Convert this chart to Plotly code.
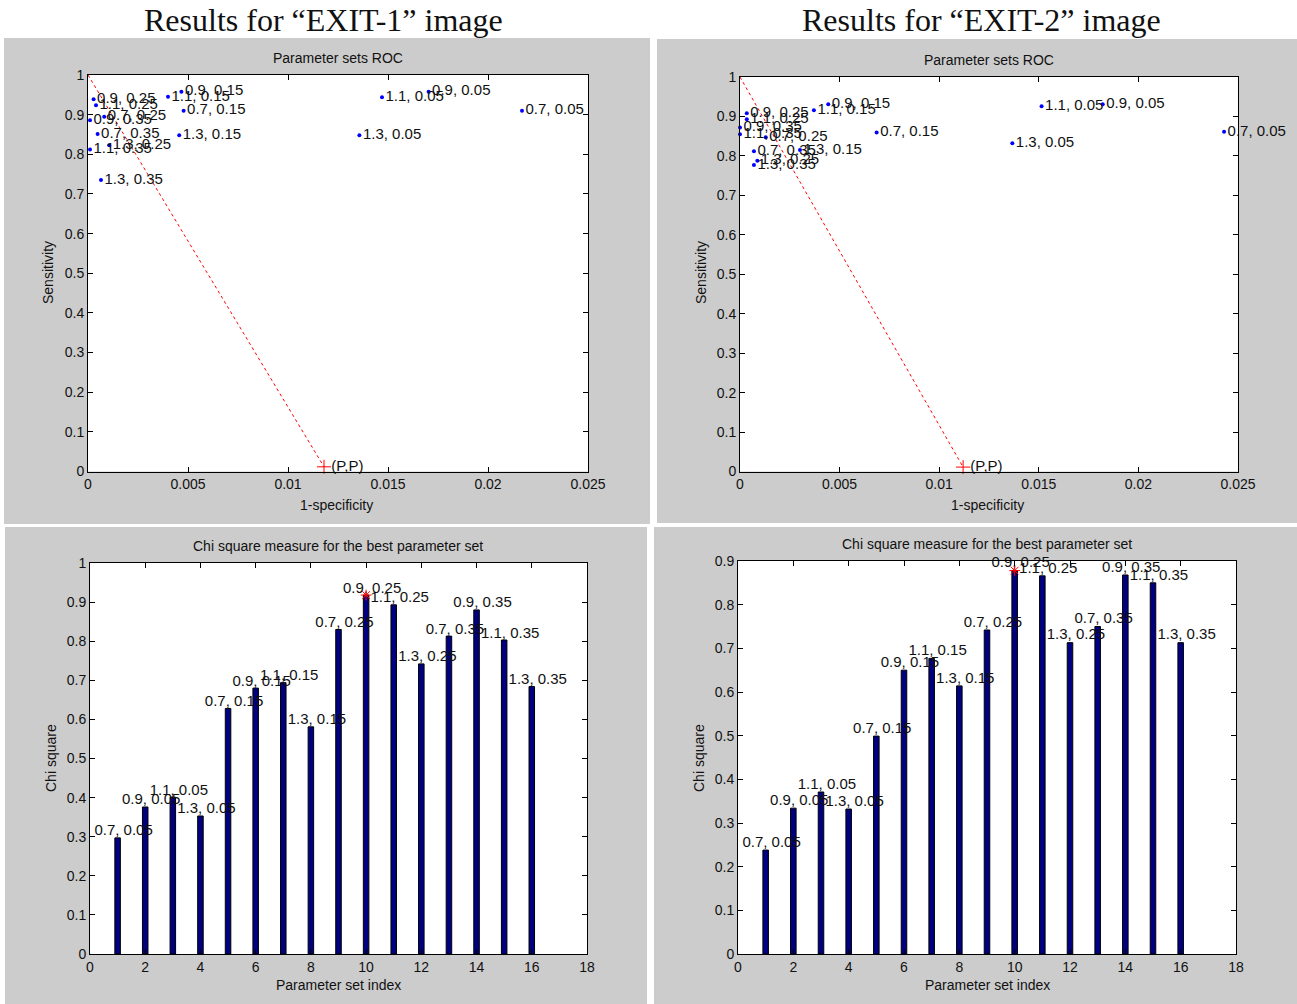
import plotly.graph_objects as go

W, H = 1297, 1004

# ---------------- data ----------------
param_labels = ["0.7, 0.05", "0.9, 0.05", "1.1, 0.05", "1.3, 0.05",
                "0.7, 0.15", "0.9, 0.15", "1.1, 0.15", "1.3, 0.15",
                "0.7, 0.25", "0.9, 0.25", "1.1, 0.25", "1.3, 0.25",
                "0.7, 0.35", "0.9, 0.35", "1.1, 0.35", "1.3, 0.35"]
param_index = list(range(1, 17))

roc1_fpr = [0.0217, 0.01703, 0.0147, 0.01357, 0.00478, 0.00467, 0.0040, 0.00456,
            0.00081, 0.00028, 0.0004, 0.00106, 0.00048, 0.0001, 0.0001, 0.00065]
roc1_tpr = [0.910, 0.958, 0.944, 0.848, 0.910, 0.958, 0.945, 0.848,
            0.895, 0.939, 0.924, 0.823, 0.851, 0.886, 0.812, 0.735]
roc2_fpr = [0.0243, 0.01821, 0.01514, 0.01367, 0.00686, 0.00443, 0.00371, 0.00301,
            0.00129, 0.00034, 0.00034, 0.00087, 0.0007, 0.0, 0.0, 0.0007]
roc2_tpr = [0.861, 0.931, 0.926, 0.832, 0.859, 0.931, 0.916, 0.815,
            0.847, 0.908, 0.893, 0.788, 0.812, 0.872, 0.855, 0.777]
prevalence1 = 0.0118
prevalence2 = 0.0112

chi1 = [0.297, 0.376, 0.401, 0.353, 0.628, 0.680, 0.694, 0.581,
        0.830, 0.918, 0.893, 0.742, 0.813, 0.880, 0.803, 0.684]
chi2 = [0.238, 0.334, 0.371, 0.332, 0.499, 0.650, 0.677, 0.614,
        0.742, 0.878, 0.866, 0.713, 0.750, 0.868, 0.850, 0.713]
best1 = 10
best2 = 10

roc_xticks = [0, 0.005, 0.01, 0.015, 0.02, 0.025]
roc_xticktext = ["0", "0.005", "0.01", "0.015", "0.02", "0.025"]
unit_ticks = [0, 0.1, 0.2, 0.3, 0.4, 0.5, 0.6, 0.7, 0.8, 0.9, 1.0]
unit_ticktext = ["0", "0.1", "0.2", "0.3", "0.4", "0.5", "0.6", "0.7", "0.8", "0.9", "1"]
chi_xticks = [0, 2, 4, 6, 8, 10, 12, 14, 16, 18]
chi_xticktext = ["0", "2", "4", "6", "8", "10", "12", "14", "16", "18"]
chi2_yticks = unit_ticks[:10]
chi2_yticktext = unit_ticktext[:10]

headings = ["Results for \u201cEXIT-1\u201d image", "Results for \u201cEXIT-2\u201d image"]

# ---------------- layout helpers ----------------
def px_x(x):
    return x / W

def px_y(y):
    return 1 - y / H

SANS = "Liberation Sans, Arial, sans-serif"
TXT = "#111111"

# plot areas in pixels: (left, right, top, bottom)
areas = {
    1: (88, 588, 75, 471.5),
    2: (740, 1238, 77, 471.5),
    3: (90, 587, 563, 954),
    4: (738, 1236, 561, 954),
}
gray_panels = [(4, 650, 38, 524), (657, 1297, 39, 523), (5, 647, 527, 1004), (654, 1297, 527, 1004)]

fig = go.Figure()

def axis_common():
    return dict(showline=True, linecolor="black", linewidth=1, mirror="ticks",
                ticks="inside", ticklen=5, tickcolor="black", showgrid=False,
                zeroline=False, automargin=False,
                tickfont=dict(family=SANS, size=14, color=TXT))

layout = dict(template="none", width=W, height=H,
              margin=dict(l=0, r=0, t=0, b=0, pad=0, autoexpand=False), autosize=False,
              paper_bgcolor="white", plot_bgcolor="white", showlegend=False)

ranges = {1: ([0, 0.025], [0, 1]), 2: ([0, 0.025], [0, 1]),
          3: ([0, 18], [0, 1]), 4: ([0, 18], [0, 0.9])}
xt = {1: (roc_xticks, roc_xticktext), 2: (roc_xticks, roc_xticktext),
      3: (chi_xticks, chi_xticktext), 4: (chi_xticks, chi_xticktext)}
yt = {1: (unit_ticks, unit_ticktext), 2: (unit_ticks, unit_ticktext),
      3: (unit_ticks, unit_ticktext), 4: (chi2_yticks, chi2_yticktext)}

for k in range(1, 5):
    l, r, t, b = areas[k]
    xa = axis_common()
    xa.update(domain=[px_x(l), px_x(r)], range=ranges[k][0],
              tickvals=xt[k][0], ticktext=xt[k][1], anchor="y" if k == 1 else f"y{k}")
    ya = axis_common()
    ya.update(domain=[px_y(b), px_y(t)], range=ranges[k][1],
              tickvals=yt[k][0], ticktext=yt[k][1], anchor="x" if k == 1 else f"x{k}")
    layout["xaxis" if k == 1 else f"xaxis{k}"] = xa
    layout["yaxis" if k == 1 else f"yaxis{k}"] = ya

shapes = []
for (l, r, t, b) in gray_panels:
    shapes.append(dict(type="rect", xref="paper", yref="paper", x0=px_x(l), x1=px_x(r),
                       y0=px_y(b), y1=px_y(t), fillcolor="#cccccc", line=dict(width=0), layer="below"))
for k in range(1, 5):
    l, r, t, b = areas[k]
    shapes.append(dict(type="rect", xref="paper", yref="paper", x0=px_x(l), x1=px_x(r),
                       y0=px_y(b), y1=px_y(t), fillcolor="white", line=dict(width=0), layer="below"))
layout["shapes"] = shapes

annotations = []
def ann(text, x, y, size=14, family=SANS, angle=0):
    annotations.append(dict(text=text, x=px_x(x), y=px_y(y), xref="paper", yref="paper",
                            showarrow=False, xanchor="center", yanchor="middle", textangle=angle,
                            font=dict(family=family, size=size, color=TXT)))

ann(headings[0], 323, 20, size=32, family="Liberation Serif, Times New Roman, serif")
ann(headings[1], 981, 20, size=32, family="Liberation Serif, Times New Roman, serif")
ann("Parameter sets ROC", 338, 58)
ann("Parameter sets ROC", 989, 60)
ann("Chi square measure for the best parameter set", 338, 546)
ann("Chi square measure for the best parameter set", 987, 544)
ann("1-specificity", 336, 505)
ann("1-specificity", 988, 505)
ann("Sensitivity", 48, 273, angle=-90)
ann("Sensitivity", 701, 273, angle=-90)
ann("Parameter set index", 338, 985)
ann("Parameter set index", 987, 985)
ann("Chi square", 51, 758, angle=-90)
ann("Chi square", 699, 758, angle=-90)
layout["annotations"] = annotations

# ---------------- ROC traces ----------------
for k, fpr, tpr, prev in [(1, roc1_fpr, roc1_tpr, prevalence1), (2, roc2_fpr, roc2_tpr, prevalence2)]:
    xa = "x" if k == 1 else f"x{k}"
    ya = "y" if k == 1 else f"y{k}"
    fig.add_trace(go.Scatter(x=[0, prev], y=[1, prev], mode="lines", xaxis=xa, yaxis=ya,
                             line=dict(color="red", width=1, dash="3px,3px"), cliponaxis=False))
    fig.add_trace(go.Scatter(x=fpr, y=tpr, mode="markers+text", text=param_labels,
                             textposition="middle right", xaxis=xa, yaxis=ya, cliponaxis=False,
                             marker=dict(color="#0000ff", size=4, line=dict(width=0)),
                             textfont=dict(family=SANS, size=15, color=TXT)))
    fig.add_trace(go.Scatter(x=[prev], y=[prev], mode="markers+text", text=["(P,P)"],
                             textposition="middle right", xaxis=xa, yaxis=ya, cliponaxis=False,
                             marker=dict(symbol="cross-thin-open", size=10, color="red",
                                         line=dict(color="red", width=1)),
                             textfont=dict(family=SANS, size=15, color=TXT)))

# ---------------- chi-square traces ----------------
for k, chi, best in [(3, chi1, best1), (4, chi2, best2)]:
    xa, ya = f"x{k}", f"y{k}"
    fig.add_trace(go.Bar(x=param_index, y=chi, width=0.2, xaxis=xa, yaxis=ya,
                         marker=dict(color="#000080", line=dict(color="black", width=1))))
    fig.add_trace(go.Scatter(x=[i - 0.84 for i in param_index], y=[v + 0.016 for v in chi],
                             mode="text", text=param_labels, textposition="middle right",
                             xaxis=xa, yaxis=ya, cliponaxis=False,
                             textfont=dict(family=SANS, size=15, color=TXT)))
    fig.add_trace(go.Scatter(x=[param_index[best - 1]], y=[chi[best - 1]], mode="markers",
                             xaxis=xa, yaxis=ya, cliponaxis=False,
                             marker=dict(symbol="asterisk-open", size=9, color="red",
                                         line=dict(color="red", width=1))))

fig.update_layout(**layout)
fig.write_html("out.html", config={"displayModeBar": False},
               post_script="document.body.style.margin='0';document.body.style.overflow='hidden';"
                           "document.documentElement.style.overflow='hidden';")
